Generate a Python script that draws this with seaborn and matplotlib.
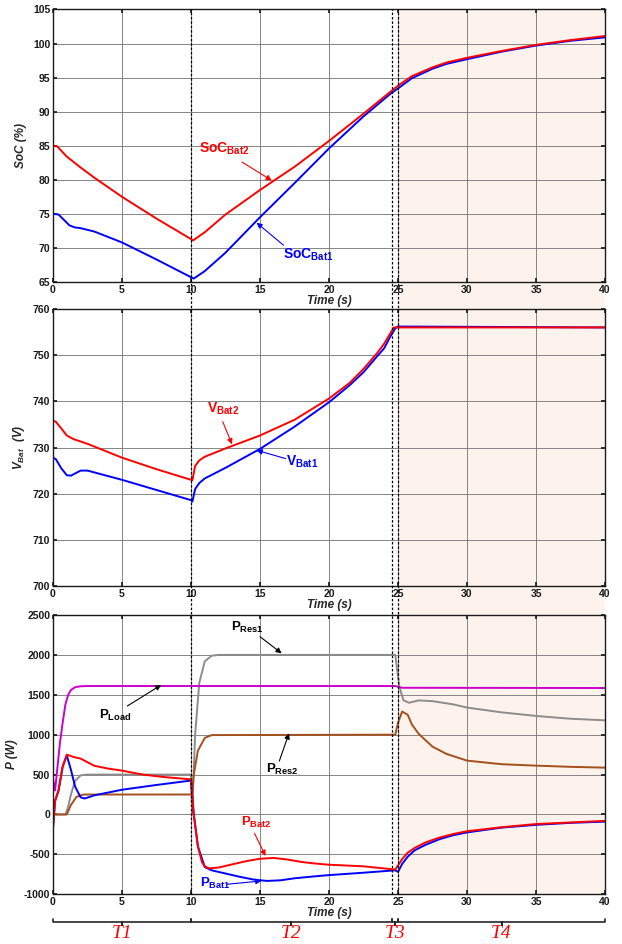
import matplotlib

matplotlib.use("Agg")
import seaborn as sns
from matplotlib import pyplot as plt
from matplotlib import transforms as mtransforms
from matplotlib.lines import Line2D
from matplotlib.patches import Rectangle

sns.set_theme(style="ticks", rc={"axes.edgecolor": "0.1", "axes.linewidth": 1.0})
plt.rcParams["font.family"] = ["Liberation Sans", "DejaVu Sans"]
plt.rcParams["axes.unicode_minus"] = False
plt.rcParams["mathtext.fontset"] = "custom"
plt.rcParams["mathtext.rm"] = "Liberation Sans"
plt.rcParams["mathtext.bf"] = "Liberation Sans:bold"
plt.rcParams["mathtext.it"] = "Liberation Sans:italic"
plt.rcParams["mathtext.bfit"] = "Liberation Sans:italic:bold"

# ---- data ----
# state of charge (%)
soc2_t = [0, 0.3, 1, 2, 3, 5, 7.5, 10, 10.15, 11, 12.5, 15, 17.5, 20, 22.5, 24.5, 25, 26,
          27.5, 28.5, 30, 32.5, 35, 37.5, 40]
soc2 = [85, 84.9, 83.4, 81.8, 80.3, 77.5, 74.3, 71.3, 71.1, 72.3, 74.9, 78.5, 81.9, 85.7,
        89.7, 93.0, 93.8, 95.2, 96.5, 97.2, 97.9, 98.9, 99.8, 100.5, 101.1]
soc1_t = [0, 0.4, 0.8, 1.2, 1.6, 2, 3, 5, 7.5, 10, 10.2, 11, 12.5, 15, 17.5, 20, 22.5, 24.5,
          25, 26, 27.5, 28.5, 30, 32.5, 35, 37.5, 40]
soc1 = [75, 74.9, 74.1, 73.3, 73.0, 72.9, 72.4, 70.8, 68.3, 65.7, 65.5, 66.6, 69.3, 74.5,
        79.5, 84.6, 89.3, 92.7, 93.4, 94.9, 96.3, 97.0, 97.7, 98.8, 99.7, 100.4, 100.9]

# battery voltage (V)
v2_t = [0, 0, 0.2, 0.5, 1, 1.5, 2.5, 5, 7.5, 10, 10.1, 10.3, 10.6, 11, 12.5, 15, 17.5, 20,
        21.5, 22.5, 23.5, 24, 24.4, 24.7, 25, 40]
v2 = [700, 735.8, 735.6, 734.5, 732.6, 731.8, 730.8, 727.8, 725.3, 723.0, 722.9, 726.0,
      727.2, 728.0, 729.8, 732.6, 736.0, 740.6, 744.0, 747.0, 750.5, 752.5, 754.5, 756.0,
      756.0, 756.0]
v1_t = [0, 0, 0.2, 0.6, 1, 1.3, 2, 2.5, 5, 7.5, 10, 10.1, 10.3, 10.6, 11, 12.5, 15, 17.5, 20,
        21.5, 22.5, 23.5, 24, 24.4, 24.8, 25, 40]
v1 = [700, 727.8, 727.5, 725.5, 724.0, 723.9, 725.0, 725.0, 723.0, 720.8, 718.6, 718.3,
      721.0, 722.3, 723.3, 725.6, 729.7, 734.5, 739.8, 743.5, 746.3, 749.8, 751.5, 753.8,
      755.8, 756.2, 756.0]

# powers (W)
pload_t = [0, 0.15, 0.5, 0.7, 0.9, 1.1, 1.3, 1.6, 2.0, 2.5, 24.8, 25.3, 40]
pload = [450, 300, 890, 1150, 1380, 1500, 1560, 1595, 1607, 1610, 1610, 1588, 1585]
pres1_t = [0, 0.9, 1.1, 1.3, 1.6, 2.0, 2.5, 10, 10.08, 10.3, 10.6, 11, 11.5, 12, 24.8, 25.1,
           25.4, 25.8, 26.5, 27.5, 29, 30, 32.5, 35, 37.5, 40]
pres1 = [0, 0, 100, 250, 420, 490, 500, 500, 0, 1000, 1650, 1920, 1990, 2000, 2000, 1600,
         1430, 1400, 1430, 1420, 1380, 1340, 1280, 1235, 1200, 1180]
pres2_t = [0, 1.0, 1.3, 1.7, 2.2, 10, 10.08, 10.2, 10.5, 11, 11.5, 24.8, 25.0, 25.3, 25.7,
           26, 26.5, 27.5, 28.5, 30, 32.5, 35, 37.5, 40]
pres2 = [0, 0, 120, 220, 250, 250, 250, 500, 800, 960, 995, 1000, 1150, 1290, 1250, 1130,
         1010, 850, 760, 675, 630, 612, 597, 587]
pbat2_t = [0, 0.15, 0.4, 0.7, 1.0, 1.5, 2.0, 3.0, 4.0, 5.0, 6.5, 8.0, 10.0, 10.2, 10.5, 10.8,
           11.0, 11.3, 12, 13, 14, 15, 16, 17, 18, 19, 20, 22.5, 24.8, 25.0, 25.3, 25.7,
           26.2, 27, 28, 29, 30, 32.5, 35, 37.5, 40]
pbat2 = [-170, 170, 300, 600, 750, 720, 700, 610, 575, 550, 500, 470, 440, 0, -400, -600,
         -650, -675, -665, -625, -585, -555, -545, -565, -595, -615, -630, -650, -690, -640,
         -560, -480, -420, -350, -290, -245, -210, -160, -120, -100, -80]
pbat1_t = [0, 0.15, 0.4, 0.7, 1.0, 1.3, 1.6, 2.0, 2.3, 3, 5, 7.5, 10, 10.2, 10.5, 11, 11.5,
           12.5, 13.5, 14.5, 15.5, 16.5, 17.5, 19, 20, 22.5, 24.8, 25.0, 25.3, 25.7, 26.2,
           27, 28, 29, 30, 32.5, 35, 37.5, 40]
pbat1 = [-170, 170, 300, 600, 740, 560, 350, 215, 200, 240, 310, 370, 425, 0, -400, -660,
         -700, -740, -780, -815, -833, -825, -800, -775, -760, -730, -700, -720, -620, -530,
         -450, -380, -310, -260, -225, -165, -130, -105, -90]

# operating intervals
mode_edges = [0, 10, 24.55, 25.0, 40]
mode_names = ["T1", "T2", "T3", "T4"]
event_lines = [10, 24.55, 25.0]

RED, BLUE = "#ff0000", "#0000ff"
MAGENTA, GRAY, BROWN = "#cc00cc", "#8c8c8c", "#a3501c"
SHADE = "#fdf3ec"


def style_axis(ax, ylim, yticks, ylabel):
    ax.set_facecolor("none")
    ax.set_xlim(0, 40)
    ax.set_ylim(*ylim)
    ax.set_xticks(range(0, 41, 5))
    ax.set_yticks(yticks)
    ax.grid(True, color="0.45", lw=0.6)
    ax.set_axisbelow(True)
    ax.tick_params(direction="in", length=3, top=True, right=True, labelsize=7.5, pad=2,
                   colors="0.1")
    for lbl in ax.get_xticklabels() + ax.get_yticklabels():
        lbl.set_fontweight("bold")
    ax.set_xlabel("Time (s)", fontsize=8.5, fontweight="bold", fontstyle="italic", labelpad=0)
    ax.set_ylabel(ylabel, fontsize=8.5, fontweight="bold", fontstyle="italic", labelpad=4)


def label(ax, text, pos, tail, head, color, size=9.5):
    ax.annotate("", xy=head, xytext=tail,
                arrowprops=dict(arrowstyle="-|>", color=color, lw=0.8, mutation_scale=8,
                                shrinkA=0, shrinkB=0))
    ax.text(pos[0], pos[1], text, color=color, fontsize=size, ha="left", va="center")


def curve(ax, t, y, color, lw=1.4):
    sns.lineplot(x=t, y=y, ax=ax, color=color, linewidth=lw, estimator=None, sort=False)


fig = plt.figure(figsize=(6.22, 9.44), dpi=100)
ax1 = fig.add_axes([0.0852, 0.7013, 0.8875, 0.2887])
ax2 = fig.add_axes([0.0852, 0.3792, 0.8875, 0.2935])
ax3 = fig.add_axes([0.0852, 0.0527, 0.8875, 0.2958])

# SoC
curve(ax1, soc1_t, soc1, BLUE)
curve(ax1, soc2_t, soc2, RED)
style_axis(ax1, (65, 105), range(65, 106, 5), "SoC (%)")
label(ax1, r"$\mathbf{SoC_{Bat2}}$", (10.6, 84.6), (13.7, 82.6), (15.85, 79.9), RED, 10)
label(ax1, r"$\mathbf{SoC_{Bat1}}$", (16.7, 69.0), (16.7, 70.4), (14.75, 73.7), BLUE, 10)

# battery voltage
curve(ax2, v1_t, v1, BLUE)
curve(ax2, v2_t, v2, RED)
style_axis(ax2, (700, 760), range(700, 761, 10), r"$\mathbfit{V_{Bat}}$  (V)")
label(ax2, r"$\mathbf{V_{Bat2}}$", (11.15, 738.3), (12.3, 735.6), (12.97, 730.7), RED, 10)
label(ax2, r"$\mathbf{V_{Bat1}}$", (16.86, 727.0), (16.86, 727.6), (14.75, 729.4), BLUE, 10)

# powers
curve(ax3, pres1_t, pres1, GRAY)
curve(ax3, pres2_t, pres2, BROWN)
curve(ax3, pload_t, pload, MAGENTA)
curve(ax3, pbat1_t, pbat1, BLUE)
curve(ax3, pbat2_t, pbat2, RED)
style_axis(ax3, (-1000, 2500), range(-1000, 2501, 500), "P (W)")
label(ax3, r"$\mathbf{P_{Res1}}$", (12.9, 2350), (15.0, 2228), (16.57, 2020), "black")
label(ax3, r"$\mathbf{P_{Load}}$", (3.3, 1245), (5.39, 1360), (7.84, 1623), "black")
label(ax3, r"$\mathbf{P_{Res2}}$", (15.4, 560), (16.4, 670), (17.1, 1017), "black")
label(ax3, r"$\mathbf{P_{Bat2}}$", (13.6, -95), (14.6, -236), (15.4, -520), RED)
label(ax3, r"$\mathbf{P_{Bat1}}$", (10.66, -865), (12.6, -875), (15.1, -833), BLUE)

# shading and event lines across all three panels
trans = mtransforms.blended_transform_factory(ax3.transData, fig.transFigure)
y_lo, y_hi = 0.0527, 0.990
fig.patches.append(Rectangle((mode_edges[3], y_lo), mode_edges[4] - mode_edges[3],
                             y_hi - y_lo, transform=trans, facecolor=SHADE,
                             edgecolor="none", zorder=-1))
for x in event_lines:
    fig.lines.append(Line2D([x, x], [y_lo, y_hi], transform=trans, color="black", lw=0.9,
                            linestyle=(0, (2.0, 1.5)), zorder=5))

# interval braces and names
y_b, hook = 0.0233, 0.003
for a, b, name in zip(mode_edges[:-1], mode_edges[1:], mode_names):
    mid = (a + b) / 2
    fig.lines.append(Line2D([a, a, mid, mid, mid, b, b],
                            [y_b + hook, y_b, y_b, y_b - hook, y_b, y_b, y_b + hook],
                            transform=trans, color="0.15", lw=1.2, zorder=5))
    fig.text(mid, 0.011, name, transform=trans, color="red", fontsize=14,
             family="Liberation Serif", fontstyle="italic", ha="center", va="center")

fig.savefig("out.png", dpi=100)
